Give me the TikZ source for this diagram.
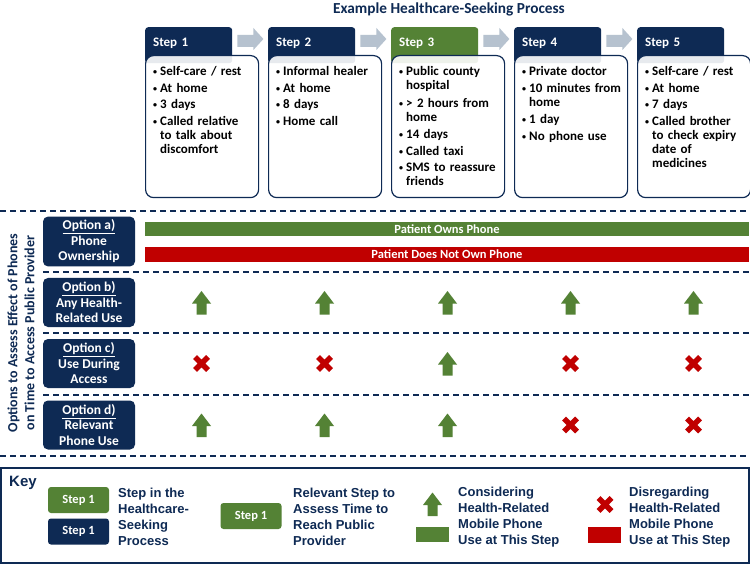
\documentclass[tikz,border=0pt]{standalone}
\usepackage{fontspec}
\setmainfont{Carlito}
\newfontfamily\keyfont{Liberation Sans}
\usetikzlibrary{calc,positioning}

\definecolor{navy}{HTML}{0E2A54}
\definecolor{okgreen}{HTML}{548235}
\definecolor{nored}{HTML}{C00000}
\definecolor{flowgray}{HTML}{B6C2CF}

\def\upmark(#1,#2){\fill[okgreen,shift={(#1,#2)}] (-5,12) -- (-5,1) -- (-9.5,1) -- (0,-11.5) -- (9.5,1) -- (5,1) -- (5,12) -- cycle;}
\def\nomark(#1,#2){\draw[nored,line width=5.5pt,shift={(#1,#2)}] (-6.5,-6.5) -- (6.5,6.5) (-6.5,6.5) -- (6.5,-6.5);}
\newcommand{\itm}[1]{\makebox[7pt][l]{\raisebox{1.2pt}{\fontsize{8}{8}\selectfont\textbullet}}\begin{tabular}[t]{@{}l@{}}#1\end{tabular}\par\vspace{2.5pt}}

\begin{document}
\begin{tikzpicture}[x=1pt,y=-1pt,
  stephead/.style={anchor=north west, minimum width=87pt, minimum height=36pt, text width=71pt, align=left,
    inner xsep=8pt, inner ysep=9pt, text height=10pt, text depth=8pt, rounded corners=3pt, text=white,
    font=\fontsize{13}{15}\selectfont\bfseries},
  stepbox/.style={anchor=north west, minimum width=113pt, minimum height=142pt, rounded corners=8pt,
    draw=navy, line width=1.2pt, fill=white, fill opacity=0.9},
  steptext/.style={anchor=north west, inner sep=0pt, text width=104pt, align=left,
    font=\fontsize{13}{14}\selectfont\bfseries},
  optbox/.style={fill=navy, rounded corners=5pt, minimum width=92pt, minimum height=49pt, align=center,
    text=white, font=\fontsize{13.5}{15.5}\selectfont\bfseries},
  phonebar/.style={minimum width=604pt, minimum height=14.5pt, inner sep=0pt, text=white,
    font=\fontsize{12.5}{14}\selectfont\bfseries},
  keystep/.style={minimum width=61pt, minimum height=26pt, rounded corners=3pt, text=white,
    font=\fontsize{12.5}{14}\selectfont\bfseries},
  keytext/.style={anchor=west, align=left, text=navy, inner sep=0pt,
    font=\keyfont\fontsize{13}{16}\selectfont\bfseries},
  sepline/.style={navy, line width=1.2pt, dash pattern=on 6pt off 4pt}
]
\fill[white] (0,0) rectangle (750,564);
\useasboundingbox (0,0) rectangle (750,564);

% title
\node[font=\fontsize{15.3}{17}\selectfont\bfseries, text=navy] (title) at (449,9) {Example Healthcare-Seeking Process};

% steps
\foreach \i/\col in {1/navy,2/navy,3/okgreen,4/navy,5/navy}{
  \pgfmathsetmacro\xl{145+123*(\i-1)}
  \node[stephead, fill=\col] (h\i) at (\xl,27) {Step \i};
  \node[stepbox] (b\i) at (\xl,55) {};
}
\foreach \i in {1,...,4}{
  \fill[flowgray, shift={(h\i.north east)}] (5,8) -- (21,8) -- (21,1) -- (31,12) -- (21,23) -- (21,20) -- (5,20) -- cycle;
}

\node[steptext] (t1) at ($(b1.north west)+(8,11)$) {\itm{Self-care / rest}\itm{At home}\itm{3 days}\itm{Called relative\\to talk about\\discomfort}};
\node[steptext] (t2) at ($(b2.north west)+(8,11)$) {\itm{Informal healer}\itm{At home}\itm{8 days}\itm{Home call}};
\node[steptext] (t3) at ($(b3.north west)+(8,11)$) {\itm{Public county\\hospital}\itm{> 2 hours from\\home}\itm{14 days}\itm{Called taxi}\itm{SMS to reassure\\friends}};
\node[steptext] (t4) at ($(b4.north west)+(8,11)$) {\itm{Private doctor}\itm{10 minutes from\\home}\itm{1 day}\itm{No phone use}};
\node[steptext] (t5) at ($(b5.north west)+(8,11)$) {\itm{Self-care / rest}\itm{At home}\itm{7 days}\itm{Called brother\\to check expiry\\date of\\medicines}};

% option rows
\foreach \y in {211,456} \draw[sepline] (0,\y) -- (750,\y);
\foreach \y in {272,333,395} \draw[sepline] (43,\y) -- (750,\y);

\node[rotate=90, align=center, text=navy, font=\fontsize{14}{17}\selectfont\bfseries] (optlbl) at (21,333)
  {Options to Assess Effect of Phones\\on Time to Access Public Provider};

\node[optbox] (oa) at (89,241.5) {\underline{Option a)}\\Phone\\Ownership};
\node[optbox] (ob) at (89,302.5) {\underline{Option b)}\\Any Health-\\Related Use};
\node[optbox] (oc) at (89,363.5) {\underline{Option c)}\\Use During\\Access};
\node[optbox] (od) at (89,425) {\underline{Option d)}\\Relevant\\Phone Use};

\node[phonebar, fill=okgreen] (owns) at (447,229) {Patient Owns Phone};
\node[phonebar, fill=nored] (noown) at (447,254.5) {Patient Does Not Own Phone};

\foreach \x in {201.5,324.5,447.5,570.5,693.5} {\upmark(\x,302.5)}
\foreach \x in {201.5,324.5,570.5,693.5} {\nomark(\x,363.5)}
\upmark(447.5,363.5)
\foreach \x in {201.5,324.5,447.5} {\upmark(\x,425)}
\foreach \x in {570.5,693.5} {\nomark(\x,425)}

% key
\draw[navy, line width=1.5pt] (1,468) rectangle (749,563);
\node[keytext, font=\keyfont\fontsize{15}{17}\selectfont\bfseries] (key) at (9,483) {Key};
\node[keystep, fill=okgreen] (kg) at (78.5,500) {Step 1};
\node[keystep, fill=navy] (kn) at (78.5,531.5) {Step 1};
\node[keytext] (kt1) at (118,517) {Step in the\\Healthcare-\\Seeking\\Process};
\node[keystep, fill=okgreen] (kr) at (251,516) {Step 1};
\node[keytext] (kt2) at (293,517) {Relevant Step to\\Assess Time to\\Reach Public\\Provider};
\upmark(432.5,504)
\fill[okgreen] (416,527) rectangle (449,542);
\node[keytext] (kt3) at (458,517) {Considering\\Health-Related\\Mobile Phone\\Use at This Step};
\nomark(605,504.5)
\fill[nored] (588,527) rectangle (621,543);
\node[keytext] (kt4) at (629,517) {Disregarding\\Health-Related\\Mobile Phone\\Use at This Step};
\end{tikzpicture}
\end{document}
